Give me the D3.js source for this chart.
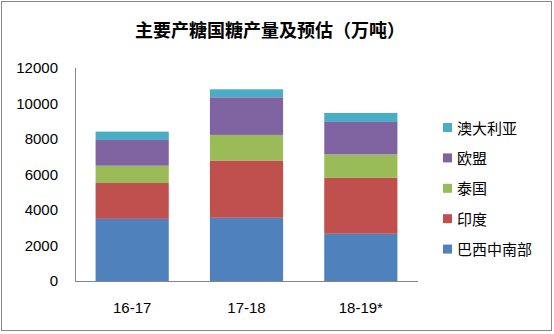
<!DOCTYPE html>
<html><head><meta charset="utf-8">
<script src="https://cdn.jsdelivr.net/npm/d3@7"></script>
<style>body{margin:0;background:#fff}svg{display:block}</style>
</head><body><svg id="c" width="554" height="334"></svg>
<script>
const categories = ["16-17", "17-18", "18-19*"];
const seriesNames = ["巴西中南部", "印度", "泰国", "欧盟", "澳大利亚"];
const brazil = [3500, 3560, 2660];
const india = [2020, 3230, 3150];
const thailand = [975, 1440, 1320];
const eu = [1450, 2120, 1830];
const australia = [470, 450, 510];
const colors = ["#4F81BD", "#C0504D", "#9BBB59", "#8064A2", "#4BACC6"];
const yTicks = [0, 2000, 4000, 6000, 8000, 10000, 12000];
const title = "主要产糖国糖产量及预估（万吨）";

const seriesValues = [brazil, india, thailand, eu, australia];
const rows = categories.map((c, i) => {
  const r = {cat: c};
  seriesNames.forEach((s, j) => r[s] = seriesValues[j][i]);
  return r;
});
const stacked = d3.stack().keys(seriesNames)(rows);

const svg = d3.select("#c");
const font = "'Noto Sans CJK SC', 'Liberation Sans', sans-serif";
svg.append("rect").attr("x", 1.5).attr("y", 1.5).attr("width", 550).attr("height", 329)
  .attr("fill", "#fff").attr("stroke", "#878787").attr("stroke-width", 1);

const x = d3.scaleBand().domain(categories).range([75, 418]).paddingInner(0.36).paddingOuter(0.18);
const y = d3.scaleLinear().domain([0, 12000]).range([281, 68]);

svg.append("text").attr("x", 270).attr("y", 37).attr("text-anchor", "middle")
  .attr("font-family", font).attr("font-weight", "bold").attr("font-size", 18)
  .attr("fill", "#000").text(title);

svg.append("g").selectAll("g").data(stacked).join("g")
  .attr("fill", (d, i) => colors[i])
  .selectAll("rect").data(d => d).join("rect")
  .attr("x", d => x(d.data.cat)).attr("width", x.bandwidth())
  .attr("y", d => y(d[1])).attr("height", d => y(d[0]) - y(d[1]));

// axes lines
svg.append("line").attr("x1", 75.5).attr("x2", 75.5).attr("y1", y(12000)).attr("y2", y(0))
  .attr("stroke", "#868686");
svg.append("line").attr("x1", 75).attr("x2", 418).attr("y1", y(0) + 0.5).attr("y2", y(0) + 0.5)
  .attr("stroke", "#868686");

svg.append("g").selectAll("text").data(yTicks).join("text")
  .attr("x", 58).attr("y", d => y(d) + 5).attr("text-anchor", "end")
  .attr("font-family", "'Liberation Sans', sans-serif").attr("font-size", 15).attr("fill", "#000")
  .text(d => d);

svg.append("g").selectAll("text").data(categories).join("text")
  .attr("x", d => x(d) + x.bandwidth() / 2).attr("y", 313).attr("text-anchor", "middle")
  .attr("font-family", "'Liberation Sans', sans-serif").attr("font-size", 15).attr("fill", "#000")
  .text(d => d);

const legendOrder = seriesNames.map((s, i) => ({s, c: colors[i]})).reverse();
const lg = svg.append("g").selectAll("g").data(legendOrder).join("g")
  .attr("transform", (d, i) => `translate(443, ${128 + i * 30.4})`);
lg.append("rect").attr("x", 0).attr("y", -5).attr("width", 9).attr("height", 9).attr("fill", d => d.c);
lg.append("text").attr("x", 14).attr("y", 5.5).attr("font-family", font).attr("font-size", 15)
  .attr("fill", "#000").text(d => d.s);
</script></body></html>
